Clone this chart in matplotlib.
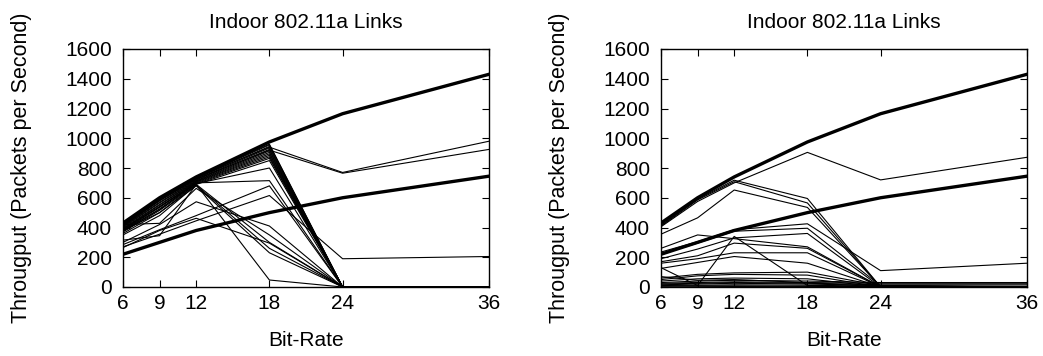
import matplotlib
matplotlib.use("Agg")
import matplotlib.pyplot as plt

plt.rcParams['font.family'] = ['Liberation Sans', 'DejaVu Sans']

bit_rates = [6, 9, 12, 18, 24, 36]
title = "Indoor 802.11a Links"
ylabel = "Througput (Packets per Second)"
xlabel = "Bit-Rate"
yticks = [0, 200, 400, 600, 800, 1000, 1200, 1400, 1600]

# theoretical maxima (thick lines), same in both panels
max_rate = [430, 600, 740, 975, 1165, 1430]
half_rate = [220, 300, 380, 500, 600, 745]

# left panel: measured links
left_links = [
    [425, 600, 740, 960, 0, 0],
    [420, 595, 735, 955, 0, 0],
    [415, 585, 730, 945, 0, 0],
    [410, 580, 725, 935, 0, 0],
    [405, 570, 720, 925, 0, 0],
    [400, 565, 715, 915, 0, 0],
    [395, 555, 712, 905, 0, 0],
    [390, 550, 708, 895, 0, 0],
    [385, 540, 705, 885, 0, 0],
    [380, 535, 700, 875, 0, 0],
    [375, 525, 695, 865, 0, 0],
    [370, 515, 690, 850, 0, 0],
    [420, 590, 735, 940, 770, 980],
    [410, 580, 725, 920, 765, 925],
    [380, 520, 700, 715, 0, 0],
    [390, 540, 695, 800, 0, 0],
    [285, 385, 480, 680, 0, 0],
    [270, 355, 445, 615, 190, 205],
    [420, 428, 663, 350, 0, 0],
    [315, 345, 690, 300, 0, 0],
    [300, 420, 573, 410, 0, 0],
    [265, 380, 462, 295, 0, 0],
    [380, 500, 690, 47, 0, 0],
    [360, 500, 680, 230, 0, 0],
    [350, 480, 685, 260, 0, 0],
]

# right panel: measured links
right_links = [
    [405, 575, 700, 905, 720, 872],
    [415, 590, 718, 595, 0, 0],
    [410, 585, 708, 565, 0, 0],
    [355, 465, 652, 535, 0, 0],
    [260, 350, 325, 270, 0, 0],
    [235, 305, 385, 425, 110, 160],
    [220, 295, 375, 395, 8, 0],
    [190, 255, 330, 360, 0, 0],
    [170, 210, 295, 260, 0, 0],
    [160, 190, 230, 230, 0, 0],
    [125, 165, 205, 160, 0, 0],
    [130, 10, 340, 10, 0, 0],
    [60, 85, 95, 100, 8, 0],
    [50, 75, 85, 80, 0, 0],
    [40, 55, 60, 55, 0, 0],
    [30, 40, 45, 40, 30, 30],
    [25, 30, 35, 30, 25, 25],
    [15, 20, 25, 20, 10, 5],
    [10, 12, 15, 12, 5, 0],
    [5, 8, 8, 5, 0, 0],
    [0, 2, 3, 2, 0, 0],
    [70, 45, 50, 30, 0, 0],
    [20, 25, 30, 25, 15, 15],
]

fig = plt.figure(figsize=(10.43, 3.56), dpi=100)
ax1 = fig.add_axes([123/1043, 1-287/356, 366/1043, 238/356])
ax2 = fig.add_axes([661/1043, 1-287/356, 366/1043, 238/356])

for ax, links in ((ax1, left_links), (ax2, right_links)):
    for row in links:
        ax.plot(bit_rates, row, color='black', lw=0.8)
    ax.plot(bit_rates, max_rate, color='black', lw=2.4)
    ax.plot(bit_rates, half_rate, color='black', lw=2.4)
    ax.set_xlim(6, 36)
    ax.set_ylim(0, 1600)
    ax.set_xticks(bit_rates)
    ax.set_yticks(yticks)
    ax.tick_params(axis='both', direction='in', top=True, right=True,
                   length=5, labelsize=15)
    ax.tick_params(axis='x', pad=5)
    ax.tick_params(axis='y', pad=8)
    ax.set_title(title, fontsize=15, pad=15)
    ax.set_xlabel(xlabel, fontsize=15, labelpad=13)
    ax.set_ylabel(ylabel, fontsize=15.5, labelpad=24)
    for s in ax.spines.values():
        s.set_linewidth(1.0)

fig.savefig("out.png", dpi=100)
